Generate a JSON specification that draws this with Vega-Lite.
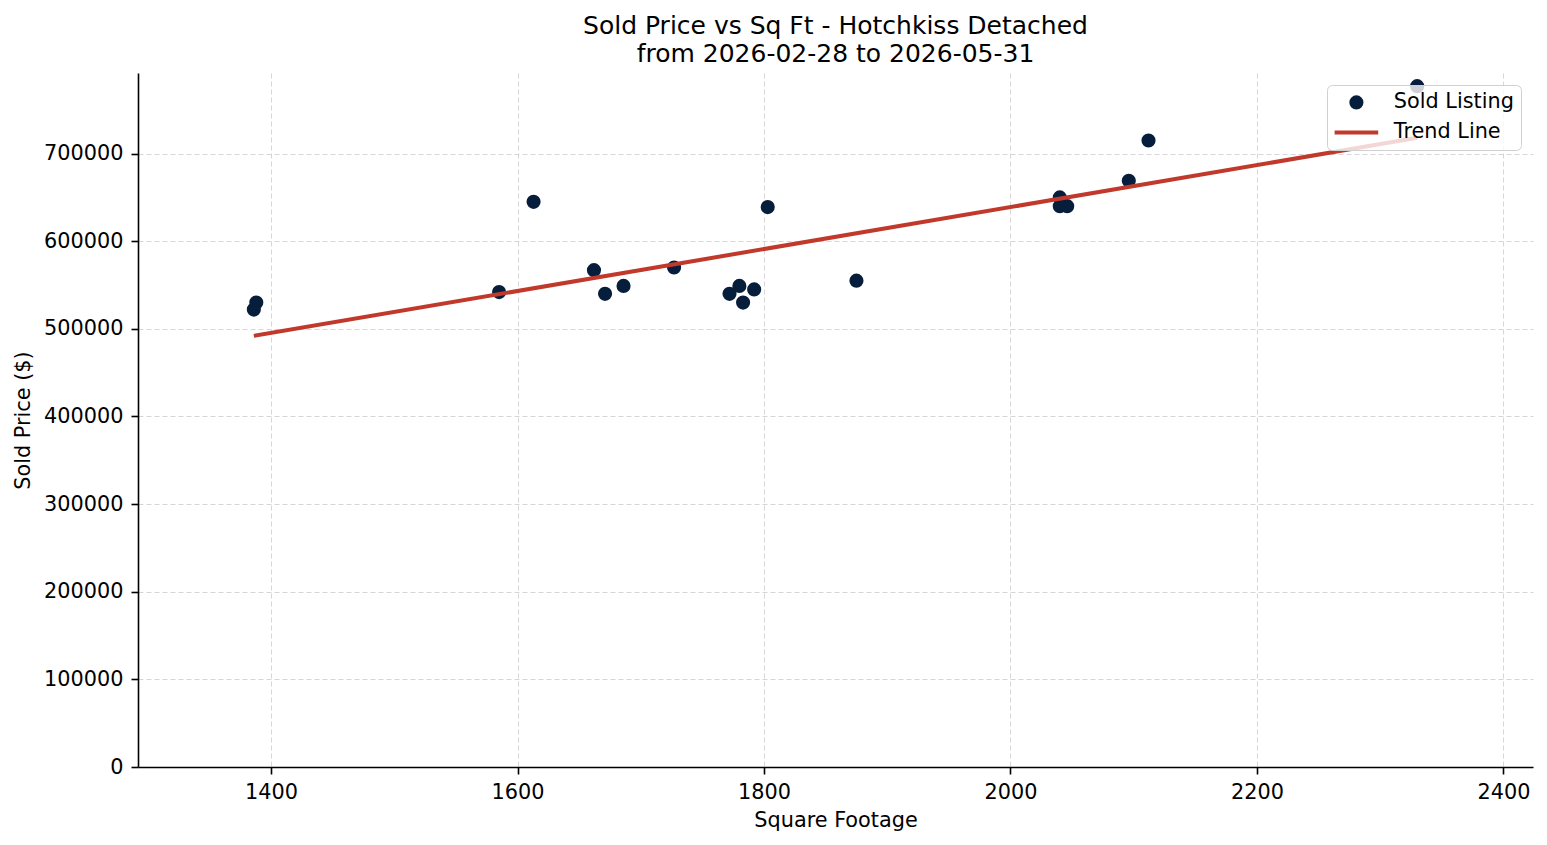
{
  "$schema": "https://vega.github.io/schema/vega-lite/v6.json",
  "autosize": {"type": "none"},
  "width": 1395,
  "height": 694,
  "padding": {"left": 138, "top": 73, "right": 14, "bottom": 78},
  "background": "white",
  "config": {
    "font": "DejaVu Sans",
    "view": {"stroke": null},
    "axis": {
      "labelFont": "DejaVu Sans", "labelFontSize": 20.8, "labelColor": "black",
      "titleFont": "DejaVu Sans", "titleFontSize": 20.8, "titleFontWeight": "normal", "titleColor": "black",
      "domainColor": "black", "domainWidth": 1.6, "tickColor": "black", "tickSize": 7, "tickWidth": 1.6,
      "gridColor": "#d6d6d6", "gridDash": [5, 3], "gridWidth": 1, "labelPadding": 8
    },
    "legend": {
      "labelFont": "DejaVu Sans", "labelFontSize": 20.8, "labelColor": "black"
    }
  },
  "title": {
    "text": ["Sold Price vs Sq Ft - Hotchkiss Detached", "from 2026-02-28 to 2026-05-31"],
    "fontSize": 25, "fontWeight": "normal", "font": "DejaVu Sans", "color": "black",
    "anchor": "middle", "lineHeight": 28, "offset": 6
  },
  "layer": [
    {
      "data": {"values": [
        {"sqft": 1386, "price": 522000, "series": "Sold Listing"},
        {"sqft": 1388, "price": 530000, "series": "Sold Listing"},
        {"sqft": 1585, "price": 542000, "series": "Sold Listing"},
        {"sqft": 1613, "price": 645000, "series": "Sold Listing"},
        {"sqft": 1662, "price": 567000, "series": "Sold Listing"},
        {"sqft": 1671, "price": 540000, "series": "Sold Listing"},
        {"sqft": 1686, "price": 549000, "series": "Sold Listing"},
        {"sqft": 1727, "price": 570000, "series": "Sold Listing"},
        {"sqft": 1772, "price": 540000, "series": "Sold Listing"},
        {"sqft": 1780, "price": 549000, "series": "Sold Listing"},
        {"sqft": 1783, "price": 530000, "series": "Sold Listing"},
        {"sqft": 1792, "price": 545000, "series": "Sold Listing"},
        {"sqft": 1803, "price": 639000, "series": "Sold Listing"},
        {"sqft": 1875, "price": 555000, "series": "Sold Listing"},
        {"sqft": 2040, "price": 650000, "series": "Sold Listing"},
        {"sqft": 2040, "price": 640000, "series": "Sold Listing"},
        {"sqft": 2046, "price": 640000, "series": "Sold Listing"},
        {"sqft": 2096, "price": 669000, "series": "Sold Listing"},
        {"sqft": 2112, "price": 715000, "series": "Sold Listing"},
        {"sqft": 2330, "price": 777000, "series": "Sold Listing"}
      ]},
      "mark": {"type": "point", "shape": "circle", "filled": true, "opacity": 1, "size": 200},
      "encoding": {
        "x": {"field": "sqft", "type": "quantitative", "title": "Square Footage",
          "scale": {"domain": [1292, 2424], "nice": false, "zero": false},
          "axis": {"values": [1400, 1600, 1800, 2000, 2200, 2400], "format": "d", "titlePadding": 9}},
        "y": {"field": "price", "type": "quantitative", "title": "Sold Price ($)",
          "scale": {"domain": [0, 792000], "nice": false},
          "axis": {"values": [0, 100000, 200000, 300000, 400000, 500000, 600000, 700000], "format": "d", "titlePadding": 10}},
        "color": {"field": "series", "type": "nominal",
          "scale": {"domain": ["Sold Listing", "Trend Line"], "range": ["#061d3b", "#c0392b"]},
          "legend": {
            "title": null, "orient": "top-right", "offset": 12,
            "fillColor": "rgba(255,255,255,0.8)", "strokeColor": "#d0d0d0", "cornerRadius": 5,
            "padding": 7, "labelOffset": 27, "rowPadding": 8, "symbolOffset": 12,
            "encode": {
              "symbols": {"update": {
                "shape": {"signal": "datum.value === 'Trend Line' ? 'stroke' : 'circle'"},
                "size": {"signal": "datum.value === 'Trend Line' ? 1900 : 200"},
                "strokeWidth": {"signal": "datum.value === 'Trend Line' ? 4 : 0"},
                "stroke": {"signal": "datum.value === 'Trend Line' ? '#c0392b' : '#061d3b'"},
                "fill": {"signal": "datum.value === 'Trend Line' ? 'transparent' : '#061d3b'"},
                "opacity": {"value": 1}
              }}
            }
          }}
      }
    },
    {
      "data": {"values": [
        {"sqft": 1386, "price": 492000, "series": "Trend Line"},
        {"sqft": 2330, "price": 718000, "series": "Trend Line"}
      ]},
      "mark": {"type": "line", "strokeWidth": 4},
      "encoding": {
        "x": {"field": "sqft", "type": "quantitative"},
        "y": {"field": "price", "type": "quantitative"},
        "color": {"field": "series", "type": "nominal",
          "legend": {
            "title": null, "orient": "top-right", "offset": 12,
            "fillColor": "rgba(255,255,255,0.8)", "strokeColor": "#d0d0d0", "cornerRadius": 5,
            "padding": 7, "labelOffset": 27, "rowPadding": 8, "symbolOffset": 12,
            "encode": {
              "symbols": {"update": {
                "shape": {"signal": "datum.value === 'Trend Line' ? 'stroke' : 'circle'"},
                "size": {"signal": "datum.value === 'Trend Line' ? 1900 : 200"},
                "strokeWidth": {"signal": "datum.value === 'Trend Line' ? 4 : 0"},
                "stroke": {"signal": "datum.value === 'Trend Line' ? '#c0392b' : '#061d3b'"},
                "fill": {"signal": "datum.value === 'Trend Line' ? 'transparent' : '#061d3b'"},
                "opacity": {"value": 1}
              }}
            }
          }}
      }
    }
  ]
}
